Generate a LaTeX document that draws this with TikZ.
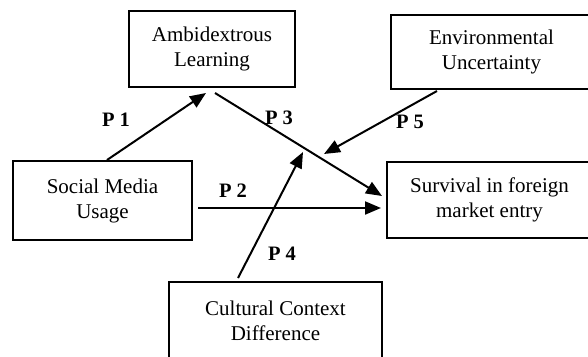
\documentclass[tikz,border=0pt]{standalone}
\usepackage{fontspec}
\setmainfont{Liberation Serif}
\usetikzlibrary{arrows.meta}
\begin{document}
\begin{tikzpicture}[x=1pt,y=-1pt,
  box/.style={draw,line width=2pt,align=center,inner sep=0pt,
    font=\fontsize{21}{25}\selectfont},
  lbl/.style={font=\fontsize{20.5}{24}\selectfont\bfseries,inner sep=0pt},
  conn/.style={line width=2pt,-{Triangle[length=16pt,width=13pt]}}]
\useasboundingbox (0,0) rectangle (588,356);
\node[box,minimum width=166pt,minimum height=76pt] (amb) at (212,49) {Ambidextrous\\Learning};
\node[box,minimum width=201pt,minimum height=74pt] (env) at (491.5,52) {Environmental\\Uncertainty};
\node[box,minimum width=179pt,minimum height=79pt] (soc) at (102.5,200.5) {Social Media\\Usage};
\node[box,minimum width=205pt,minimum height=76pt] (surv) at (489.5,200) {Survival in foreign\\market entry};
\node[box,minimum width=213pt,minimum height=78pt] (cult) at (275.5,321) {Cultural Context\\Difference};
\coordinate (p4end) at (303,152);
\coordinate (p5end) at (324,154);
\draw[conn] ([xshift=4.5pt]soc.north) -- ([xshift=-6pt,yshift=-5pt]amb.south);
\draw[conn] ([xshift=3pt,yshift=-5pt]amb.south) -- ([xshift=-4pt,yshift=4pt]surv.west);
\draw[conn] ([xshift=5pt,yshift=-7.5pt]soc.east) -- ([xshift=-5pt,yshift=-8pt]surv.west);
\draw[conn] ([xshift=-37.5pt,yshift=3pt]cult.north) -- (p4end);
\draw[conn] ([xshift=-54.5pt,yshift=-1pt]env.south) -- (p5end);
\node[lbl] (l1) at (116,120) {P 1};
\node[lbl] (l3) at (279,118) {P 3};
\node[lbl] (l5) at (410,122) {P 5};
\node[lbl] (l2) at (233,191) {P 2};
\node[lbl] (l4) at (282,254) {P 4};
\end{tikzpicture}
\end{document}
